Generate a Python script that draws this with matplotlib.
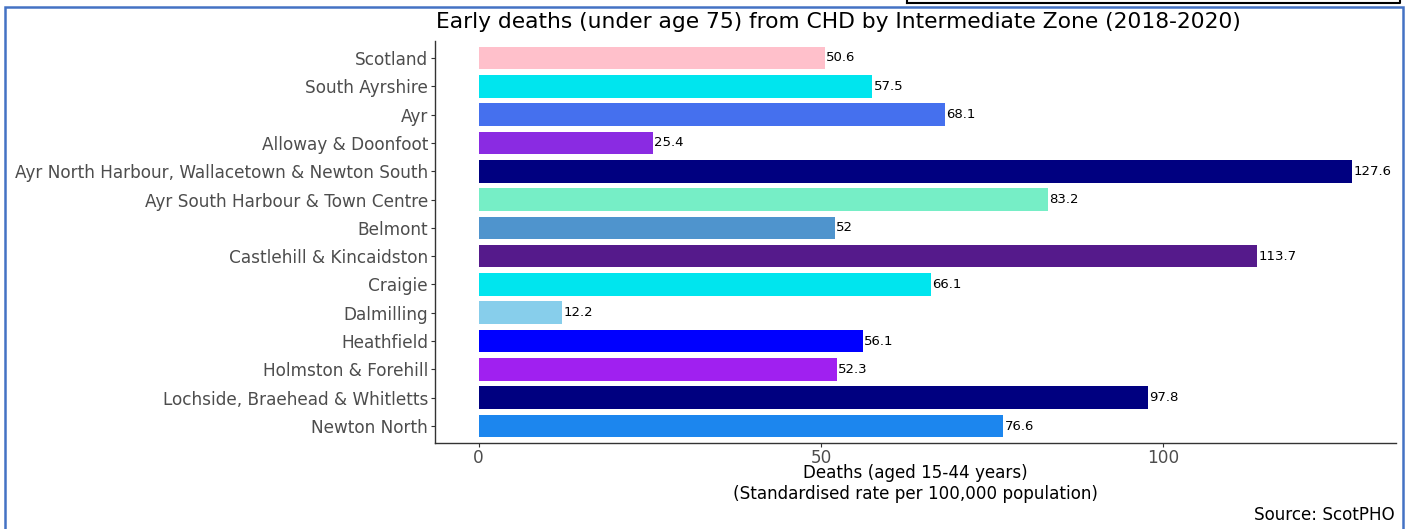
import matplotlib
matplotlib.use('Agg')
import matplotlib.pyplot as plt
from matplotlib.patches import Rectangle
from matplotlib.lines import Line2D

plt.rcParams['font.family'] = ['DejaVu Sans']

# 数据
zones = ['Scotland', 'South Ayrshire', 'Ayr', 'Alloway & Doonfoot',
         'Ayr North Harbour, Wallacetown & Newton South',
         'Ayr South Harbour & Town Centre', 'Belmont', 'Castlehill & Kincaidston',
         'Craigie', 'Dalmilling', 'Heathfield', 'Holmston & Forehill',
         'Lochside, Braehead & Whitletts', 'Newton North']
rates = [50.6, 57.5, 68.1, 25.4, 127.6, 83.2, 52, 113.7, 66.1, 12.2, 56.1, 52.3, 97.8, 76.6]
rate_labels = ['50.6', '57.5', '68.1', '25.4', '127.6', '83.2', '52', '113.7',
               '66.1', '12.2', '56.1', '52.3', '97.8', '76.6']
bar_colors = ['#FFC0CB', '#00E5EE', '#4570EE', '#8A2BE2', '#000080', '#76EEC6',
              '#4F94CD', '#551A8B', '#00E5EE', '#87CEEB', '#0000FF', '#A020F0',
              '#000080', '#1C86EE']
x_ticks = [0, 50, 100]

W, H = 1408, 529
fig = plt.figure(figsize=(W / 100, H / 100), dpi=100)

# 面板位置 (像素)
left, right, top, bottom = 435, 1396, 41, 443
ax = fig.add_axes([left / W, 1 - bottom / H, (right - left) / W, (bottom - top) / H])

ypos = list(range(len(zones)))
ax.barh(ypos, rates, height=0.8, color=bar_colors, edgecolor='none')
for y, v, lab in zip(ypos, rates, rate_labels):
    ax.text(v + 0.2, y, lab, va='center', ha='left', fontsize=9.5, color='black')

ax.set_yticks(ypos)
ax.set_yticklabels(zones)
ax.set_ylim(len(zones) - 0.4, -0.6)
ax.set_xlim(-6.38, 134.0)
ax.set_xticks(x_ticks)
ax.tick_params(axis='both', colors='#333333', labelcolor='#4D4D4D', labelsize=12.2,
               length=3, width=0.8)
ax.tick_params(axis='y', pad=2)
ax.tick_params(axis='x', pad=1.5)
for s in ['top', 'right']:
    ax.spines[s].set_visible(False)
for s in ['left', 'bottom']:
    ax.spines[s].set_color('#333333')
    ax.spines[s].set_linewidth(1.0)

ax.set_xlabel('Deaths (aged 15-44 years)\n(Standardised rate per 100,000 population)',
              fontsize=12.1, color='black', labelpad=-2, linespacing=1.2)

fig.text(838 / W, 1 - 22 / H, 'Early deaths (under age 75) from CHD by Intermediate Zone (2018-2020)',
         ha='center', va='center', fontsize=15.7, color='black')
fig.text(1395 / W, 1 - 515 / H, 'Source: ScotPHO', ha='right', va='center',
         fontsize=12.1, color='black')

# 外框
fig.patches.append(Rectangle((5 / W, -0.1), (1403 - 5) / W, 1.1 - 7 / H,
                             transform=fig.transFigure, fill=False,
                             edgecolor='#4472C4', linewidth=1.8))
fig.lines.append(Line2D([907 / W, 1400 / W, 1400 / W], [1 - 3 / H, 1 - 3 / H, 1.1],
                        transform=fig.transFigure, color='black', linewidth=1.5))
fig.lines.append(Line2D([907 / W, 907 / W], [1 - 3 / H, 1.1],
                        transform=fig.transFigure, color='black', linewidth=1.5))

fig.savefig('out.png', dpi=100)
